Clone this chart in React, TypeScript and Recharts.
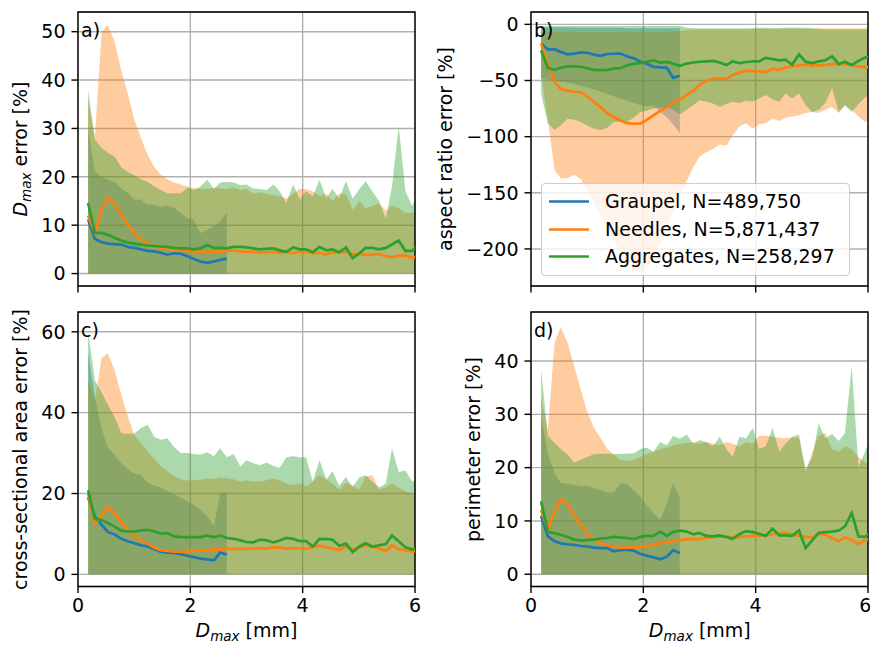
import React from "react";
import { ComposedChart, Area, Line, XAxis, YAxis, CartesianGrid, ReferenceArea } from "recharts";

// bin centres, D_max [mm]
const X = [0.18, 0.30, 0.42, 0.53, 0.65, 0.77, 0.89, 1.00, 1.12, 1.24, 1.36, 1.47, 1.59, 1.71, 1.83, 1.95,
  2.06, 2.18, 2.30, 2.42, 2.53, 2.65, 2.77, 2.89, 3.00, 3.12, 3.24, 3.36, 3.48, 3.59, 3.71, 3.83,
  3.95, 4.06, 4.18, 4.30, 4.42, 4.53, 4.65, 4.77, 4.89, 5.01, 5.12, 5.24, 5.36, 5.48, 5.59, 5.71,
  5.83, 5.95, 6.06];

const LEGEND = ["Graupel, N=489,750", "Needles, N=5,871,437", "Aggregates, N=258,297"];
const COLORS = ["#1f77b4", "#ff7f0e", "#2ca02c"];

// a) D_max error
const aGraupel = [11.2, 7.2, 6.5, 6.2, 6.1, 6.0, 5.5, 5.3, 5.0, 4.7, 4.6, 4.3, 3.9, 4.2, 4.1, 3.6,
  3.0, 2.5, 2.2, 2.5, 2.8, 3.1];
const aNeedles = [12.0, 8.4, 13.2, 15.8, 14.5, 12.2, 10.0, 8.4, 7.1, 6.2, 5.6, 5.3, 5.1, 4.9, 4.8, 4.7,
  4.6, 4.5, 4.5, 4.5, 4.6, 4.7, 4.8, 4.6, 4.5, 4.5, 4.4, 4.4, 4.5, 4.3, 4.5, 4.2,
  4.6, 4.4, 4.2, 4.3, 3.9, 4.4, 4.3, 4.5, 4.1, 4.0, 3.8, 3.9, 4.0, 3.6, 3.4, 3.7,
  3.7, 3.3, 3.5];
const aAggr = [14.6, 8.4, 8.4, 8.0, 7.4, 6.8, 6.4, 6.2, 6.0, 5.8, 5.7, 5.6, 5.5, 5.3, 5.2, 5.2,
  5.0, 5.2, 5.9, 5.3, 5.3, 5.2, 5.5, 5.5, 5.4, 5.2, 5.0, 5.1, 5.2, 4.8, 4.5, 5.4,
  5.0, 5.0, 4.4, 5.5, 4.8, 5.0, 4.4, 5.4, 3.2, 4.2, 5.3, 5.3, 5.0, 5.3, 6.0, 6.8,
  4.7, 4.7, 6.0];
const aGraupelHi = [30, 21, 20, 19.4, 19.0, 17.6, 16.7, 15.3, 15.3, 14.3, 14.2, 13.8, 14.0, 13.6, 12.5, 11.5,
  11.2, 8.4, 9.0, 9.8, 10.8, 12.6];
const aNeedlesHi = [36, 28, 50, 51.4, 48, 42, 37, 32, 28, 24.5, 22, 20.5, 19.5, 18.8, 18.4, 18.0,
  17.7, 17.5, 17.5, 17.8, 17.6, 17.5, 17.8, 17.3, 17.5, 16.5, 16.8, 16.5, 16.2, 16.0, 15.5, 16.5,
  17.5, 17.5, 17.0, 16.0, 16.5, 15.0, 16.5, 16.5, 13.2, 15.0, 13.5, 14.0, 14.5, 13.0, 14.0, 13.5,
  12.5, 12.5, 12.5];
const aAggrHi = [38, 27.7, 26, 25, 24.2, 22, 21, 20.3, 19.5, 19, 18.0, 17.3, 16.6, 16.6, 16.6, 17.8,
  17.3, 18.0, 19.4, 17.5, 18.8, 19.0, 18.8, 18.3, 18.4, 17.6, 17.5, 17.3, 18.4, 17.0, 14.6, 18.4,
  15.3, 17.0, 16.0, 19.4, 15.6, 17.5, 15.6, 19.1, 15.5, 17.5, 19.1, 17.0, 15.0, 11.3, 18.0, 30.4,
  17.0, 13.9, 17.0];

// b) aspect ratio error
const bGraupel = [-17, -22.3, -22.3, -24.5, -26.7, -26, -25, -25.3, -27, -28, -26.4, -26.2, -26, -28.5, -30.3, -33.3,
  -35, -37.8, -38.3, -38.7, -47.6, -45.8];
const bNeedles = [-17, -36, -51, -57.5, -59, -60, -60.5, -64, -69, -74, -79, -82.5, -85.5, -88, -88.5, -88.2,
  -85, -81, -77, -73.5, -70, -67, -63, -59, -54, -50.5, -48, -48.5, -48.5, -45, -43, -41.5,
  -41.5, -42, -42.5, -39.5, -40.5, -38.5, -37.5, -36.5, -36, -36.5, -36.5, -36, -35.5, -35, -35.5, -36,
  -37.5, -38, -38];
const bAggr = [-23, -39, -40.5, -38.7, -37.3, -37.5, -37.8, -39, -40.6, -40.8, -40.6, -39.5, -39, -36.5, -35, -34.5,
  -33.4, -32, -34, -33.4, -35, -37, -35, -34, -33.3, -33, -32.5, -34, -36.3, -33, -34.5, -33.5,
  -33, -33, -29.8, -31, -32, -31.4, -36, -26.8, -33.3, -34.5, -33, -32, -28.5, -35.5, -33.3, -36.3,
  -32.5, -29.5, -28.5];
const bGraupelHi = [-3, -2.5, -2.5, -2.5, -2.5, -3, -3, -3, -3, -3, -3, -3, -3, -3.5, -3.5, -3.5,
  -3.5, -3.5, -3.5, -3.5, -3.5, -3.5];
const bGraupelLo = [-48, -49, -50, -51, -52, -53, -55, -56.5, -58, -60, -62, -64, -66, -68, -70, -72,
  -73, -72.5, -78, -83, -89, -97];
const bNeedlesHi = [-7, -6.5, -6.5, -6.5, -6.5, -6.5, -6.5, -6.5, -6.5, -6.5, -6.5, -6.5, -6.5, -6.5, -6.5, -6.5,
  -6.5, -6.5, -6.5, -6.5, -6, -6, -5, -4.5, -4.5, -4.5, -4.5, -4.5, -4.5, -4.5, -4.5, -4.5,
  -4, -4, -4, -4, -4, -4, -4, -4, -4, -4, -3.5, -3.5, -3.5, -3.5, -3.5, -3.5,
  -3.5, -3.5, -3.5];
const bNeedlesLo = [-45, -85, -130, -137, -137, -134, -138, -148, -158, -170, -181, -192, -202, -212, -219, -221,
  -217.5, -207, -195, -181, -167, -154, -140, -127, -118, -114, -111, -107, -108, -99, -91, -88,
  -93, -89, -88, -84, -86, -83.5, -82, -81, -79, -78, -79, -76, -73.5, -79, -72, -76,
  -82, -87, -85];
const bAggrHi = [-1.5, -1.5, -1.5, -1.5, -1.5, -1.5, -1.5, -1.5, -1.5, -1.5, -1.5, -1.5, -1.5, -1.5, -1.5, -1.5,
  -1.5, -1.5, -1.5, -1.5, -1.5, -1.5, -3, -3.5, -3.5, -3.5, -3.5, -3.5, -3.5, -3.5, -3.5, -3.5,
  -3.5, -3, -3, -3.5, -3.5, -3, -3, -3, -3, -3.5, -4, -4.5, -4.5, -4.5, -4.5, -4.5,
  -4.5, -4.5, -4.5];
const bAggrLo = [-62, -88, -94, -90, -84, -85, -87, -90, -93, -94, -92, -87, -87, -87, -83, -78,
  -77, -75, -74, -73.5, -76, -80, -76, -72, -67.5, -69, -70.4, -73.4, -71, -69, -70, -68,
  -69, -66, -63, -67, -69, -61.5, -66, -61.5, -72, -78, -76, -70, -57, -78, -72, -78,
  -71, -65, -62];

// c) cross-sectional area error
const cGraupel = [19.0, 14.3, 12.3, 10.5, 9.9, 8.8, 8.2, 7.7, 7.2, 6.9, 6.2, 5.6, 5.4, 5.3, 5.0, 4.6,
  4.3, 3.9, 3.7, 3.5, 5.4, 4.9];
const cNeedles = [20.0, 12.5, 14.3, 16.8, 15.2, 13.0, 11.0, 9.4, 8.4, 7.6, 6.6, 6.0, 5.8, 5.6, 5.6, 5.6,
  5.8, 6.0, 6.0, 6.1, 6.2, 6.3, 6.3, 6.3, 6.3, 6.4, 6.5, 6.4, 6.7, 6.6, 6.4, 6.5,
  6.4, 6.3, 6.8, 7.1, 6.7, 6.4, 6.0, 6.9, 6.2, 6.6, 7.2, 6.8, 6.5, 5.7, 7.2, 6.2,
  6.0, 5.7, 5.7];
const cAggr = [20.8, 13.7, 13.5, 12.7, 11.8, 10.8, 10.6, 10.6, 10.9, 11.0, 10.6, 10.1, 10.2, 9.4, 9.2, 9.2,
  9.2, 9.2, 9.6, 9.2, 9.6, 9.0, 8.8, 8.4, 8.0, 7.9, 8.6, 8.4, 7.9, 8.4, 9.0, 8.8,
  8.2, 8.2, 6.9, 8.8, 8.7, 8.6, 7.1, 7.6, 5.5, 6.9, 7.7, 6.9, 7.2, 7.5, 9.6, 8.2,
  6.7, 6.2, 6.4];
const cGraupelHi = [55, 44, 36, 31.5, 29.5, 27.5, 26.0, 25.0, 24.5, 22.8, 22.0, 21.5, 20.6, 19.8, 19.0, 18.1,
  17.2, 16.0, 14.5, 12.0, 20.0, 20.3];
const cNeedlesHi = [48, 43, 53.5, 54.7, 50.6, 44.5, 39, 34.5, 32.5, 30.5, 28.5, 26.8, 25.5, 24.3, 23.5, 23.2,
  23.3, 23.4, 23.8, 23.5, 24.0, 23.8, 23.5, 23.0, 23.2, 23.0, 23.0, 23.3, 23.7, 23.3, 22.5, 22.1,
  22.5, 21.8, 23.0, 24.6, 23.5, 22.5, 21.0, 22.7, 22.0, 21.0, 24.2, 24.5, 21.0, 21.5, 22.5, 21.5,
  20.5, 20.0, 20.5];
const cAggrHi = [60, 48, 45, 42, 39, 35, 34.8, 34.8, 36.2, 37, 34, 33.3, 33.7, 31.5, 30, 30,
  29.8, 29.6, 30.2, 29.2, 31.2, 29.0, 29.8, 26.7, 28.2, 27.5, 27.0, 27.7, 26.8, 26.4, 29.0, 29.2,
  29.0, 29.0, 23.0, 28.2, 23.5, 25.5, 22.0, 24.1, 21.6, 24.0, 24.5, 23.0, 21.5, 22.5, 31.2, 25.3,
  25.7, 23.0, 23.5];

// d) perimeter error
const dGraupel = [10.9, 7.1, 6.2, 5.8, 5.6, 5.5, 5.3, 5.2, 5.0, 4.9, 4.9, 4.3, 4.5, 4.6, 4.4, 3.8,
  3.5, 3.2, 2.8, 3.3, 4.5, 4.0];
const dNeedles = [12.1, 8.4, 11.8, 14.1, 13.2, 11.0, 9.2, 7.6, 6.5, 5.8, 5.4, 5.2, 5.0, 5.0, 5.0, 5.1,
  5.3, 5.6, 5.8, 6.0, 6.2, 6.4, 6.6, 6.6, 6.6, 6.8, 7.0, 7.1, 7.0, 6.9, 7.0, 7.1,
  7.2, 7.2, 7.3, 7.5, 7.6, 7.75, 7.5, 7.2, 7.0, 6.9, 7.6, 7.4, 6.8, 6.2, 6.9, 6.4,
  5.7, 6.4, 6.8];
const dAggr = [13.7, 7.9, 7.7, 7.4, 7.0, 6.5, 6.3, 6.4, 6.5, 6.7, 6.8, 7.0, 6.9, 6.8, 6.6, 7.0,
  7.2, 7.2, 8.0, 7.2, 7.9, 8.2, 8.0, 7.5, 7.75, 7.2, 7.1, 7.3, 7.0, 6.6, 7.5, 8.1,
  7.9, 7.6, 7.2, 8.55, 7.3, 7.3, 7.2, 8.2, 4.9, 6.4, 7.75, 7.9, 8.0, 8.2, 9.0, 11.5,
  7.1, 7.0, 8.0];
const dGraupelHi = [30, 22.5, 19.0, 17.1, 17.0, 16.8, 16.5, 16.6, 16.2, 15.8, 15.3, 15.4, 17.1, 17.0, 15.8, 14.5,
  13.0, 11.5, 10.2, 13.3, 17.1, 14.3];
const dNeedlesHi = [33, 27, 43.5, 46.4, 43.5, 39, 34.5, 30.5, 27.5, 25.5, 23.5, 22.5, 21.5, 21.3, 21.5, 22.0,
  22.5, 23.0, 23.5, 23.8, 24.2, 24.5, 24.6, 24.8, 24.5, 24.8, 24.5, 24.2, 24.8, 24.5, 24.0, 24.8,
  24.5, 26.0, 26.0, 25.8, 25.6, 25.5, 25.7, 25.5, 19.3, 23.0, 26.0, 26.5, 23.5, 23.0, 24.0, 23.5,
  22.0, 21.0, 20.5];
const dAggrHi = [38.5, 26, 24.6, 23.5, 22.5, 20.9, 21.5, 22, 22.5, 22.6, 22.6, 22.5, 22.6, 22.6, 22.7, 23.5,
  23.8, 23.0, 24.8, 24.2, 26.0, 25.4, 26.2, 24.5, 25.2, 24.8, 24.0, 25.8, 23.5, 22.0, 25.8, 25.5,
  27.5, 23.5, 24.0, 27.5, 23.0, 24.5, 25.8, 26.2, 19.5, 22.0, 28.3, 25.5, 26.3, 25.0, 26.5, 39.0,
  20.2, 23.0, 26.5];

const FONT = "DejaVu Sans";

type Row = Record<string, number | number[] | undefined>;

function build(
  g: number[], n: number[], a: number[],
  gHi: number[], nHi: number[], aHi: number[],
  gLo?: number[], nLo?: number[], aLo?: number[]
): Row[] {
  return X.map((x, i) => ({
    x,
    g: g[i],
    n: n[i],
    a: a[i],
    gb: i < gHi.length ? [gLo ? gLo[i] : 0, gHi[i]] : undefined,
    nb: [nLo ? nLo[i] : 0, nHi[i]],
    ab: [aLo ? aLo[i] : 0, aHi[i]],
  }));
}

const fmt = (v: number) => (v < 0 ? `\u2212${-v}` : `${v}`);

interface PanelProps {
  rows: Row[];
  yDomain: [number, number];
  yTicks: number[];
  left: number;
  top: number;
  height: number;
  yWidth: number;
  right: number;
  xHeight: number;
  xLabels: boolean;
}

const Panel = ({ rows, yDomain, yTicks, left, top, height, yWidth, right, xHeight, xLabels }: PanelProps) => {
  const tickStyle = { fill: "#000", fontSize: 19, fontFamily: FONT };
  const tickLine = { stroke: "#000", strokeWidth: 1.4 };
  return (
    <div style={{ position: "absolute", left, top }}>
      <ComposedChart
        width={435}
        height={height}
        data={rows}
        margin={{ top: 12, right, bottom: 0, left: 0 }}
        style={{ fontFamily: FONT }}
      >
        <CartesianGrid stroke="#b0b0b0" strokeWidth={1.4} />
        <XAxis
          dataKey="x"
          type="number"
          domain={[0, 6]}
          ticks={[0, 2, 4, 6]}
          allowDataOverflow
          height={xHeight}
          axisLine={false}
          tickLine={tickLine}
          tickSize={6.5}
          tickMargin={6}
          tick={tickStyle}
          tickFormatter={xLabels ? fmt : () => ""}
        />
        <YAxis
          type="number"
          domain={yDomain}
          ticks={yTicks}
          allowDataOverflow
          width={yWidth}
          axisLine={false}
          tickLine={tickLine}
          tickSize={6.5}
          tickMargin={6}
          tick={tickStyle}
          tickFormatter={fmt}
        />
        <Area type="linear" dataKey="gb" stroke="none" fill={COLORS[0]} fillOpacity={0.4} isAnimationActive={false} />
        <Area type="linear" dataKey="nb" stroke="none" fill={COLORS[1]} fillOpacity={0.4} isAnimationActive={false} />
        <Area type="linear" dataKey="ab" stroke="none" fill={COLORS[2]} fillOpacity={0.4} isAnimationActive={false} />
        <Line type="linear" dataKey="g" stroke={COLORS[0]} strokeWidth={2.7} dot={false} activeDot={false} isAnimationActive={false} />
        <Line type="linear" dataKey="n" stroke={COLORS[1]} strokeWidth={2.7} dot={false} activeDot={false} isAnimationActive={false} />
        <Line type="linear" dataKey="a" stroke={COLORS[2]} strokeWidth={2.7} dot={false} activeDot={false} isAnimationActive={false} />
        <ReferenceArea
          x1={0}
          x2={6}
          y1={yDomain[0]}
          y2={yDomain[1]}
          fill="none"
          stroke="#000"
          strokeWidth={1.4}
          ifOverflow="visible"
        />
      </ComposedChart>
    </div>
  );
};

const Dmax = ({ rest }: { rest: string }) => (
  <>
    <tspan fontStyle="italic">D</tspan>
    <tspan fontStyle="italic" fontSize={13.5} dy={3.5}>max</tspan>
    <tspan dy={-3.5}>{rest}</tspan>
  </>
);

export default function App() {
  const a = build(aGraupel, aNeedles, aAggr, aGraupelHi, aNeedlesHi, aAggrHi);
  const b = build(bGraupel, bNeedles, bAggr, bGraupelHi, bNeedlesHi, bAggrHi, bGraupelLo, bNeedlesLo, bAggrLo);
  const c = build(cGraupel, cNeedles, cAggr, cGraupelHi, cNeedlesHi, cAggrHi);
  const d = build(dGraupel, dNeedles, dAggr, dGraupelHi, dNeedlesHi, dAggrHi);

  return (
    <div style={{ position: "absolute", left: 0, top: 0, width: 870, height: 646, background: "#fff", fontFamily: FONT }}>
      <Panel rows={a} yDomain={[-2.57, 54.07]} yTicks={[0, 10, 20, 30, 40, 50]} left={0} top={0} height={300}
        yWidth={78} right={20} xHeight={14} xLabels={false} />
      <Panel rows={b} yDomain={[-233, 11]} yTicks={[-200, -150, -100, -50, 0]} left={435} top={0} height={300}
        yWidth={96} right={2} xHeight={14} xLabels={false} />
      <Panel rows={c} yDomain={[-3.0, 64.9]} yTicks={[0, 20, 40, 60]} left={0} top={300} height={346}
        yWidth={78} right={20} xHeight={59.5} xLabels />
      <Panel rows={d} yDomain={[-2.3, 49.2]} yTicks={[0, 10, 20, 30, 40]} left={435} top={300} height={346}
        yWidth={96} right={2} xHeight={59.5} xLabels />

      <div
        style={{
          position: "absolute", left: 541, top: 183, width: 309, height: 93, boxSizing: "border-box",
          border: "1px solid #cccccc", borderRadius: 4, background: "rgba(255,255,255,0.8)",
        }}
      >
        {LEGEND.map((t, i) => (
          <div key={t} style={{ position: "absolute", left: 0, top: 4 + i * 27.5, height: 27, width: 300 }}>
            <svg width={50} height={27} style={{ position: "absolute", left: 6, top: 0 }}>
              <line x1={1} x2={41} y1={13.5} y2={13.5} stroke={COLORS[i]} strokeWidth={2.7} />
            </svg>
            <span style={{ position: "absolute", left: 63, top: 1, fontSize: 19, lineHeight: "25px", color: "#000", whiteSpace: "nowrap" }}>
              {t}
            </span>
          </div>
        ))}
      </div>

      <svg width={870} height={646} style={{ position: "absolute", left: 0, top: 0, pointerEvents: "none" }}
        fontFamily={FONT} fontSize={19} fill="#000">
        <text x={81} y={37}>a)</text>
        <text x={534} y={37}>b)</text>
        <text x={81} y={337}>c)</text>
        <text x={534} y={337}>d)</text>
        <text transform="translate(27,149) rotate(-90)" textAnchor="middle"><Dmax rest=" error [%]" /></text>
        <text transform="translate(452,149) rotate(-90)" textAnchor="middle">aspect ratio error [%]</text>
        <text transform="translate(27,449.5) rotate(-90)" textAnchor="middle">cross-sectional area error [%]</text>
        <text transform="translate(480,449.5) rotate(-90)" textAnchor="middle">perimeter error [%]</text>
        <text x={246.5} y={637} textAnchor="middle"><Dmax rest=" [mm]" /></text>
        <text x={699.8} y={637} textAnchor="middle"><Dmax rest=" [mm]" /></text>
      </svg>
    </div>
  );
}
